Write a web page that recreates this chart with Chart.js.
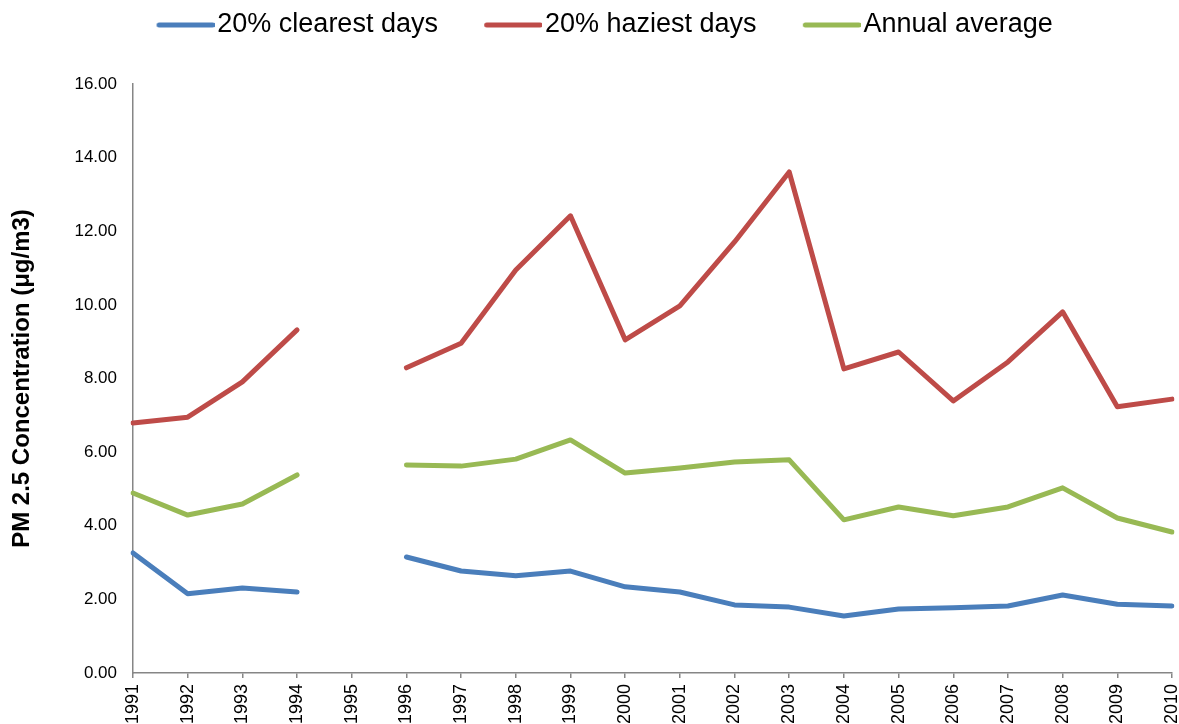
<!DOCTYPE html>
<html>
<head>
<meta charset="utf-8">
<script src="https://cdn.jsdelivr.net/npm/chart.js@4/dist/chart.umd.min.js"></script>
<style>
  html, body { margin: 0; padding: 0; background: #fff; }
  canvas { display: block; }
</style>
</head>
<body>
<canvas id="pmChart" width="1179" height="724"></canvas>
<script>
// Yearly PM 2.5 values, no measurements for 1995
const years = ['1991', '1992', '1993', '1994', '1995', '1996', '1997', '1998', '1999', '2000',
               '2001', '2002', '2003', '2004', '2005', '2006', '2007', '2008', '2009', '2010'];
const clearest = [3.26, 2.15, 2.31, 2.20, null, 3.15, 2.77, 2.64, 2.77, 2.34,
                  2.20, 1.85, 1.79, 1.55, 1.74, 1.77, 1.82, 2.12, 1.87, 1.82];
const haziest = [6.79, 6.95, 7.91, 9.32, null, 8.29, 8.96, 10.95, 12.42, 9.05,
                 9.97, 11.71, 13.61, 8.26, 8.72, 7.39, 8.45, 9.81, 7.23, 7.44];
const annualAvg = [4.89, 4.29, 4.59, 5.38, null, 5.65, 5.62, 5.81, 6.33, 5.43,
                   5.57, 5.73, 5.79, 4.16, 4.51, 4.27, 4.51, 5.03, 4.21, 3.83];

const axisGrey = '#868686';
const font = 'Liberation Sans, Arial, sans-serif';

function series(label, data, color) {
    return {
        label: label,
        data: data,
        borderColor: color,
        backgroundColor: color,
        borderWidth: 5,
        borderCapStyle: 'round',
        borderJoinStyle: 'round',
        pointRadius: 0,
        pointHoverRadius: 0,
        tension: 0,
        spanGaps: false
    };
}

// legend swatch: a short thick line sitting right up against its label text.
// chart.js centres the image on the box, so the line is drawn in the right part
function swatch(color) {
    const c = document.createElement('canvas');
    c.width = 68;
    c.height = 8;
    const g = c.getContext('2d');
    g.strokeStyle = color;
    g.lineWidth = 5;
    g.lineCap = 'round';
    g.beginPath();
    g.moveTo(12.5, 4);
    g.lineTo(66, 4);
    g.stroke();
    return c;
}

// the legend needs wide spacing between items but sits close to the top edge
const legendShift = {
    id: 'legendShift',
    afterLayout(chart) {
        const lg = chart.legend;
        lg.top -= 35.5;
        lg.bottom -= 35.5;
        lg.left += 19;
        lg.right += 19;
    }
};

const ctx = document.getElementById('pmChart').getContext('2d');
const chart = new Chart(ctx, {
    type: 'line',
    data: {
        labels: years,
        datasets: [
            series('20% clearest days', clearest, '#4A7EBB'),
            series('20% haziest days', haziest, '#BE4B48'),
            series('Annual average', annualAvg, '#98B954')
        ]
    },
    plugins: [legendShift],
    options: {
        responsive: false,
        animation: false,
        layout: { padding: { left: 0, right: 7, top: 0, bottom: 0 } },
        plugins: {
            legend: {
                position: 'top',
                labels: {
                    usePointStyle: true,
                    pointStyleWidth: 46.5,
                    padding: 47,
                    color: '#000',
                    font: { family: font, size: 27 },
                    generateLabels(chart) {
                        const items = Chart.defaults.plugins.legend.labels.generateLabels(chart);
                        items.forEach((item) => {
                            item.pointStyle = swatch(chart.data.datasets[item.datasetIndex].borderColor);
                        });
                        return items;
                    }
                }
            },
            tooltip: { enabled: false }
        },
        scales: {
            x: {
                offset: false,
                grid: {
                    display: true,
                    drawOnChartArea: false,
                    drawTicks: true,
                    tickLength: 5,
                    color: axisGrey,
                    lineWidth: 1.5
                },
                border: { display: true, color: axisGrey, width: 1.5 },
                ticks: {
                    color: '#000',
                    minRotation: 90,
                    maxRotation: 90,
                    autoSkip: false,
                    padding: 6,
                    font: { family: font, size: 18 }
                },
                afterFit(scale) {
                    scale.height = 51;
                    scale.paddingLeft = 0;
                    scale.paddingRight = 0;
                }
            },
            y: {
                min: 0,
                max: 16,
                grid: { display: false, drawTicks: false },
                border: { display: true, color: axisGrey, width: 1.5 },
                ticks: {
                    stepSize: 2,
                    padding: 16,
                    color: '#000',
                    font: { family: font, size: 17 },
                    callback: (v) => v.toFixed(2)
                },
                title: {
                    display: true,
                    text: 'PM 2.5 Concentration (μg/m3)',
                    color: '#000',
                    padding: { top: 8, bottom: 0 },
                    font: { family: font, size: 24, weight: 'bold' }
                },
                afterFit(scale) {
                    scale.width = 133;
                }
            }
        }
    }
});
</script>
</body>
</html>
